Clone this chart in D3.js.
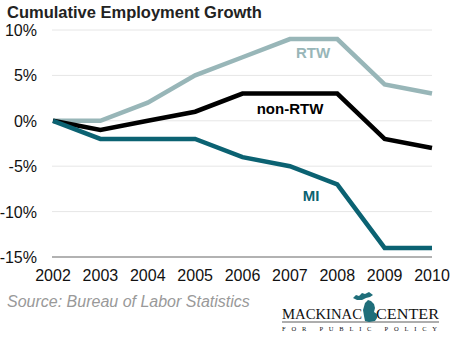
<!DOCTYPE html>
<html><head><meta charset="utf-8">
<script src="https://cdn.jsdelivr.net/npm/d3@7"></script>
<style>body{margin:0;background:#fff}svg{display:block}</style>
</head><body>
<script>
const years = [2002,2003,2004,2005,2006,2007,2008,2009,2010];
const rtw = [0,0,2,5,7,9,9,4,3];
const nonRtw = [0,-1,0,1,3,3,3,-2,-3];
const mi = [0,-2,-2,-2,-4,-5,-7,-14,-14];
const yTicks = [10,5,0,-5,-10,-15];

const W=450,H=338;
const svg=d3.select("body").append("svg").attr("width",W).attr("height",H);
const x=d3.scaleLinear().domain([2002,2010]).range([53,432]);
const y=d3.scaleLinear().domain([-15,10]).range([257,30]);

svg.append("text").attr("x",7).attr("y",18).attr("font-family","Liberation Sans, Arial").attr("font-weight","bold").attr("font-size",16.5).attr("fill","#222").text("Cumulative Employment Growth");

const g=svg.append("g");
yTicks.forEach(t=>{
  g.append("line").attr("x1",52).attr("x2",432).attr("y1",y(t)).attr("y2",y(t))
   .attr("stroke",t===-15?"#999":"#e6e6e6").attr("stroke-width",t===-15?1.5:1);
  g.append("text").attr("x",37).attr("y",y(t)+6).attr("text-anchor","end")
   .attr("font-family","Liberation Sans, Arial").attr("font-size",16).attr("fill","#111")
   .text(t+"%");
});
years.forEach(yr=>{
  g.append("text").attr("x",x(yr)).attr("y",281).attr("text-anchor","middle")
   .attr("font-family","Liberation Sans, Arial").attr("font-size",16).attr("fill","#111").text(yr);
});

const line=d3.line().x((d,i)=>x(years[i])).y(d=>y(d));
const series=[[rtw,"#98b6b8","RTW",313,58],[nonRtw,"#000","non-RTW",290,114],[mi,"#0b6272","MI",311,201]];
series.forEach(([d,c,lab,lx,ly])=>{
  g.append("path").datum(d).attr("d",line).attr("fill","none").attr("stroke",c).attr("stroke-width",4.5).attr("stroke-linejoin","miter");
  g.append("text").attr("x",lx).attr("y",ly).attr("text-anchor","middle").attr("font-family","Liberation Sans, Arial")
   .attr("font-weight","bold").attr("font-size",15).attr("fill",c).text(lab);
});

svg.append("text").attr("x",7).attr("y",307).attr("font-family","Liberation Sans, Arial").attr("font-style","italic")
 .attr("font-size",16).attr("fill","#999").text("Source: Bureau of Labor Statistics");

// logo
const lg=svg.append("g");
lg.append("text").attr("x",282).attr("y",319).attr("font-family","Liberation Serif, Times New Roman").attr("font-size",15).attr("fill","#111").attr("textLength",80).attr("lengthAdjust","spacingAndGlyphs").text("MACKINAC");
lg.append("text").attr("x",376).attr("y",319).attr("font-family","Liberation Serif, Times New Roman").attr("font-size",15).attr("fill","#111").attr("textLength",63).attr("lengthAdjust","spacingAndGlyphs").text("CENTER");
lg.append("line").attr("x1",282).attr("x2",439).attr("y1",322).attr("y2",322).attr("stroke","#333").attr("stroke-width",0.8);
lg.append("text").attr("x",282).attr("y",331).attr("font-family","Liberation Serif, Times New Roman").attr("font-size",6.5).attr("fill","#111").attr("textLength",155).text("FOR PUBLIC POLICY");
// Michigan-like shape
lg.append("path").attr("fill","#1f6e7a").attr("d","M353,298 L356,295 L359,296 L362,293 L365,294 L369,292 L373,295 L370,297 L366,298 L362,300 L357,300 Z M365,303 L368,300 L371,301 L374,304 L375,308 L374,312 L377,314 L377,318 L375,321 L369,322 L365,321 L364,316 L363,310 Z");
</script>
</body></html>
